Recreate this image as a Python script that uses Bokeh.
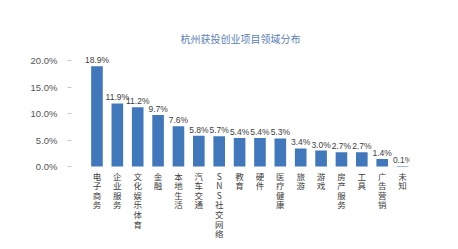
from bokeh.plotting import figure
from bokeh.models import Range1d, FixedTicker, PrintfTickFormatter, ColumnDataSource
from bokeh.core.properties import value
from bokeh.embed import file_html
from bokeh.resources import INLINE

categories = ["电子商务", "企业服务", "文化娱乐体育", "金融", "本地生活", "汽车交通",
              "SNS社交网络", "教育", "硬件", "医疗健康", "旅游", "游戏",
              "房产服务", "工具", "广告营销", "未知"]
shares = [18.9, 11.9, 11.2, 9.7, 7.6, 5.8, 5.7, 5.4, 5.4, 5.3, 3.4, 3.0, 2.7, 2.7, 1.4, 0.1]
y_ticks = [0, 5, 10, 15, 20]
title_text = "杭州获投创业项目领域分布"

xs = list(range(len(categories)))
src = ColumnDataSource(dict(
    x=xs,
    y=shares,
    lab=["%.1f%%" % v for v in shares],
    cat=["\n".join(list(c)) for c in categories],
    zero=[0] * len(categories),
))

p = figure(width=458, height=249, output_backend="svg", toolbar_location=None,
           x_range=Range1d(-1.25, 15.34), y_range=Range1d(-13.96, 21.89),
           min_border_left=71, min_border_right=49, min_border_top=50, min_border_bottom=9,
           title=title_text)
p.title.align = "center"
p.title.text_font = "Noto Sans CJK SC"
p.title.text_font_size = "10px"
p.title.text_font_style = "normal"
p.title.text_color = "#5b80b6"

p.vbar(x="x", top="y", bottom=0, width=0.57, source=src, fill_color="#4178bc", line_color=None)

p.text(x="x", y="y", text="lab", source=src, text_align="center", text_baseline="bottom",
       y_offset=-1, text_font=value("Liberation Sans"), text_font_size="8.5px", text_color="#404040")

p.text(x="x", y="zero", text="cat", source=src, text_align="center", text_baseline="top",
       y_offset=3, text_font=value("Noto Sans CJK SC"), text_font_size="8.5px",
       text_line_height=0.8, text_color="#404040")

p.xaxis.visible = False
p.xgrid.visible = False
p.ygrid.visible = False
p.outline_line_color = None
p.background_fill_color = "white"
p.border_fill_color = "white"

ax = p.yaxis[0]
ax.ticker = FixedTicker(ticks=y_ticks)
ax.formatter = PrintfTickFormatter(format="%.1f%%")
ax.axis_line_color = None
ax.major_tick_in = 0
ax.major_tick_out = 4
ax.major_tick_line_color = "#c8c8c8"
ax.minor_tick_line_color = None
ax.major_label_standoff = 10
ax.major_label_text_font = "Liberation Sans"
ax.major_label_text_font_size = "9.5px"
ax.major_label_text_color = "#555555"

open("out.html", "w").write(file_html(p, INLINE))
